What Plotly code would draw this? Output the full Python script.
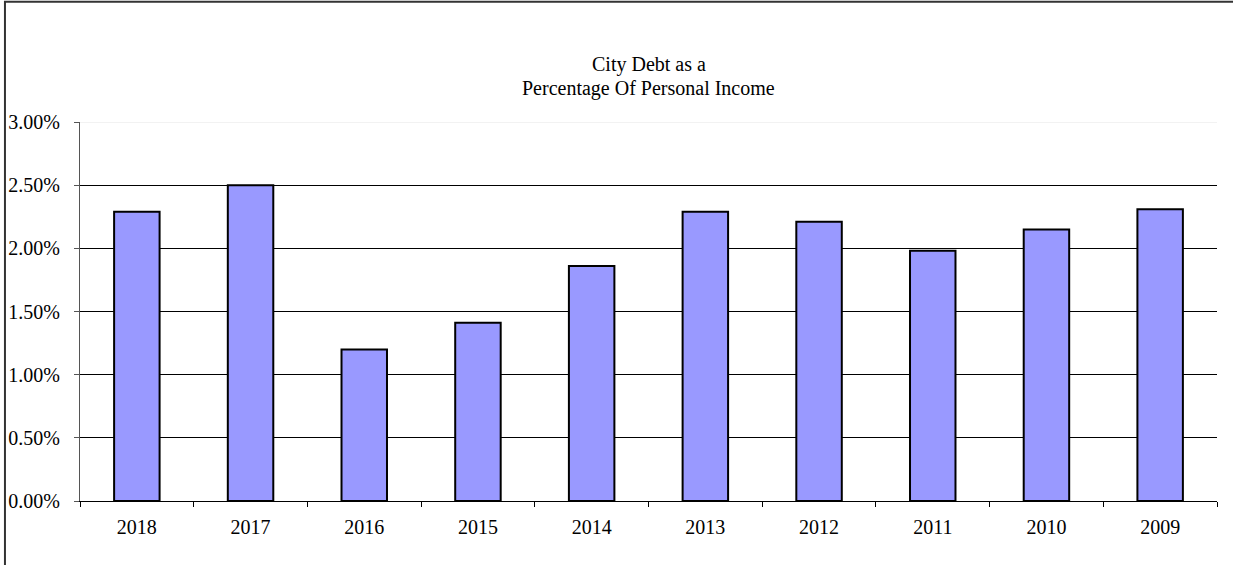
'''
    Bar chart of city debt as a percentage of personal income.
'''

import plotly.graph_objects as go

years = ['2018', '2017', '2016', '2015', '2014', '2013', '2012', '2011', '2010', '2009']
debt_pct = [2.29, 2.50, 1.20, 1.41, 1.86, 2.29, 2.21, 1.98, 2.15, 2.31]

y_ticks = [0.0, 0.005, 0.01, 0.015, 0.02, 0.025, 0.03]

title_lines = ['City Debt as a', 'Percentage Of Personal Income']

SERIF = 'Liberation Serif, Times New Roman, serif'

fig = go.Figure(
    go.Bar(
        x=years,
        y=[v / 100 for v in debt_pct],
        marker=dict(color='#9999FF', line=dict(color='black', width=2)),
    )
)

fig.update_layout(
    width=1233,
    height=565,
    margin=dict(l=80, r=16, t=122, b=64),
    paper_bgcolor='white',
    plot_bgcolor='white',
    bargap=0.6,
    showlegend=False,
    font=dict(family=SERIF, size=20, color='black'),
)

# two-line title, placed as annotations to match the tight line spacing
for line, ypos in zip(title_lines, [1.1504, 1.0897]):
    fig.add_annotation(text=line, xref='paper', yref='paper', x=0.5, y=ypos,
                       xanchor='center', yanchor='middle', showarrow=False,
                       font=dict(family=SERIF, size=20, color='black'))

fig.update_yaxes(
    range=[0, 0.03],
    tickvals=y_ticks,
    tickformat='.2%',
    showgrid=True,
    gridcolor='black',
    gridwidth=1,
    showline=True,
    linecolor='#555555',
    linewidth=1,
    ticks='outside',
    ticklen=5,
    tickcolor='#555555',
    zeroline=False,
    automargin=False,
    ticklabelstandoff=10,
    tickfont=dict(family=SERIF, size=20, color='black'),
)

fig.update_xaxes(
    showline=True,
    linecolor='black',
    linewidth=1,
    ticks='outside',
    tickson='boundaries',
    ticklen=5,
    tickcolor='black',
    showgrid=False,
    automargin=False,
    ticklabelstandoff=8,
    tickfont=dict(family=SERIF, size=20, color='black'),
)

# light top gridline, as in the original
fig.add_shape(type='line', xref='paper', yref='y', x0=0, x1=1, y0=0.03, y1=0.03,
              line=dict(color='#e6e6e6', width=1), layer='above')

# outer chart frame
fig.add_shape(type='rect', xref='paper', yref='paper', x0=-0.066, x1=1.2, y0=-0.4, y1=1.317,
              line=dict(color='#333333', width=2), layer='above')

fig.write_html('out.html', config={'displayModeBar': False},
               post_script="document.body.style.margin='0';")
